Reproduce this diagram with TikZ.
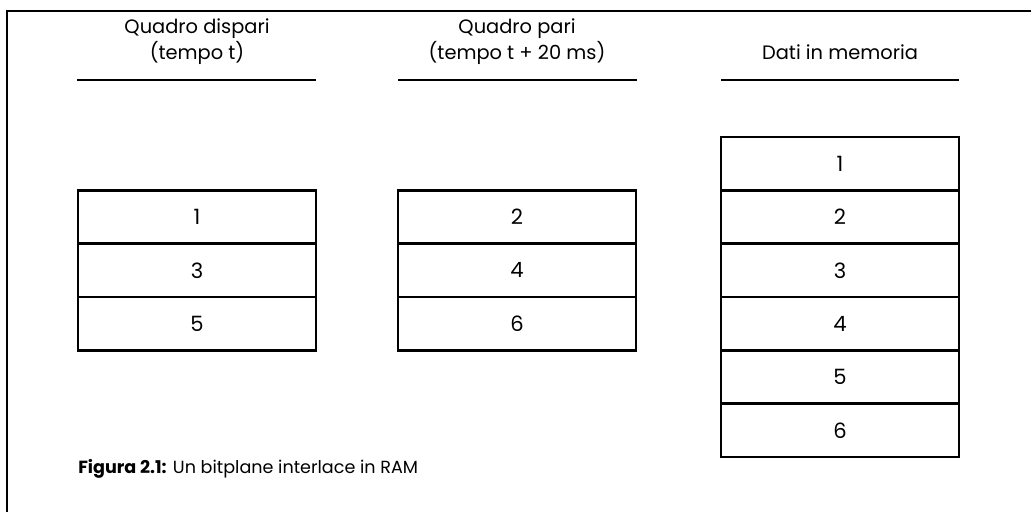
\documentclass[tikz,border=0pt]{standalone}
\usepackage{fontspec}
\setmainfont{Poppins}
\usetikzlibrary{positioning}

\tikzset{
  cella/.style={draw, line width=2pt, minimum width=5.95cm, minimum height=1.3325cm,
                outer sep=0pt, inner sep=0pt, font=\fontsize{15}{17}\selectfont},
  titolo/.style={align=center, font=\fontsize{13.8}{18.5}\selectfont},
  riga/.style={line width=1.4pt}
}

\begin{document}
\begin{tikzpicture}[x=0.025cm, y=-0.025cm]
  \useasboundingbox (0,0) rectangle (1031,512);

  % frame
  \draw[line width=1.5pt] (7,512) |- (1031,11);

  % titles
  \node[titolo] (tdispari) at (197,42) {Quadro dispari\\(tempo t)};
  \node[titolo] (tpari) at (517,42) {Quadro pari\\(tempo t + 20 ms)};
  \node[titolo] (tmem) at (840,52) {Dati in memoria};
  \draw[riga] (77,80) -- (316,80);
  \draw[riga] (398,80) -- (637,80);
  \draw[riga] (721,80) -- (959,80);

  % odd field
  \node[cella] (d1) at (197,217) {1};
  \node[cella, below=0pt of d1] (d3) {3};
  \node[cella, below=0pt of d3] (d5) {5};

  % even field
  \node[cella] (p2) at (517,217) {2};
  \node[cella, below=0pt of p2] (p4) {4};
  \node[cella, below=0pt of p4] (p6) {6};

  % memory
  \node[cella] (m1) at (840,163.7) {1};
  \node[cella, below=0pt of m1] (m2) {2};
  \node[cella, below=0pt of m2] (m3) {3};
  \node[cella, below=0pt of m3] (m4) {4};
  \node[cella, below=0pt of m4] (m5) {5};
  \node[cella, below=0pt of m5] (m6) {6};

  % caption
  \node[anchor=west, inner sep=0pt, font=\fontsize{12.5}{14}\selectfont] (didascalia) at (78,469)
    {\textbf{Figura 2.1:} Un bitplane interlace in RAM};
\end{tikzpicture}
\end{document}
